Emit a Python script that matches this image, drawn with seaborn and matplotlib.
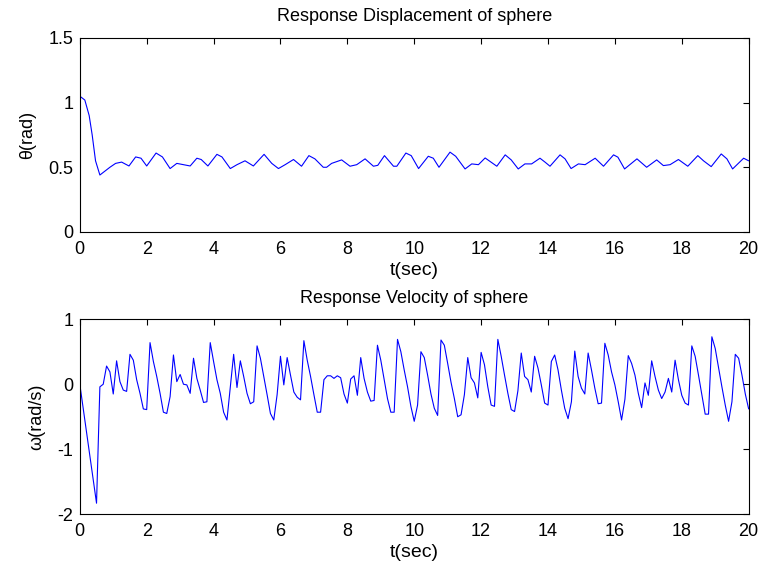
import numpy as np
import pandas as pd
import matplotlib
matplotlib.use("Agg")
import matplotlib.pyplot as plt
import seaborn as sns
from matplotlib.ticker import FuncFormatter

# ---- data ----
t_theta = [0, 0.15, 0.28, 0.37, 0.47, 0.6, 0.75, 0.9, 1.07, 1.25, 1.47, 1.67, 1.83, 2.0, 2.28,
           2.47, 2.7, 2.9, 3.1, 3.3, 3.5, 3.63, 3.83, 4.1, 4.25, 4.5, 4.7, 4.94, 5.19, 5.51,
           5.74, 5.94, 6.14, 6.39, 6.63, 6.85, 7.03, 7.28, 7.38, 7.53, 7.83, 8.08, 8.28, 8.53,
           8.78, 8.91, 9.11, 9.38, 9.48, 9.75, 9.91, 10.13, 10.42, 10.57, 10.74, 11.07, 11.24,
           11.52, 11.72, 11.92, 12.12, 12.47, 12.72, 12.9, 13.11, 13.31, 13.51, 13.76, 13.91,
           14.06, 14.36, 14.51, 14.69, 14.91, 15.11, 15.41, 15.66, 15.96, 16.09, 16.29, 16.66,
           16.95, 17.25, 17.45, 17.65, 17.9, 18.18, 18.48, 18.65, 18.88, 19.18, 19.35, 19.52,
           19.85, 20.0]
theta = [1.05, 1.02, 0.9, 0.75, 0.55, 0.44, 0.47, 0.5, 0.53, 0.54, 0.51, 0.58, 0.57, 0.51, 0.61,
         0.58, 0.49, 0.53, 0.52, 0.51, 0.57, 0.56, 0.51, 0.60, 0.58, 0.49, 0.52, 0.55, 0.51, 0.60,
         0.53, 0.49, 0.52, 0.56, 0.508, 0.59, 0.565, 0.50, 0.50, 0.53, 0.557, 0.508, 0.52, 0.565,
         0.508, 0.515, 0.59, 0.508, 0.508, 0.61, 0.59, 0.49, 0.585, 0.57, 0.50, 0.617, 0.585,
         0.487, 0.526, 0.52, 0.572, 0.508, 0.596, 0.557, 0.487, 0.526, 0.526, 0.57, 0.54,
         0.508, 0.596, 0.565, 0.49, 0.526, 0.52, 0.57, 0.508, 0.596, 0.578, 0.487, 0.565,
         0.50, 0.557, 0.513, 0.52, 0.56, 0.508, 0.59, 0.55, 0.505, 0.603, 0.565, 0.487,
         0.57, 0.55]

omega = [0.0, -0.37, -0.73, -1.10, -1.46, -1.83, -0.04, 0.0, 0.28, 0.19,
         -0.15, 0.36, 0.04, -0.09, -0.11, 0.46, 0.37, 0.07, -0.14, -0.38,
         -0.39, 0.64, 0.35, 0.12, -0.14, -0.43, -0.45, -0.19, 0.45, 0.04,
         0.15, 0.0, -0.01, -0.14, 0.40, 0.09, -0.09, -0.28, -0.27, 0.64,
         0.35, 0.07, -0.14, -0.43, -0.55, -0.04, 0.46, -0.05, 0.36, 0.12,
         -0.14, -0.30, -0.27, 0.59, 0.40, 0.12, -0.16, -0.45, -0.55, -0.16,
         0.43, -0.01, 0.41, 0.14, -0.12, -0.20, -0.24, 0.67, 0.37, 0.12,
         -0.16, -0.43, -0.43, 0.07, 0.13, 0.13, 0.09, 0.13, 0.10, -0.15,
         -0.29, 0.08, 0.13, -0.17, 0.41, 0.09, -0.12, -0.26, -0.25, 0.60,
         0.37, 0.07, -0.22, -0.43, -0.43, 0.69, 0.50, 0.22, -0.04, -0.34,
         -0.57, -0.32, 0.50, 0.41, 0.14, -0.15, -0.37, -0.48, 0.68, 0.60,
         0.32, 0.03, -0.22, -0.50, -0.47, -0.16, 0.41, 0.10, 0.02, -0.21,
         0.49, 0.30, -0.04, -0.32, -0.34, 0.69, 0.43, 0.14, -0.14, -0.39,
         -0.42, -0.10, 0.48, 0.12, 0.07, -0.12, 0.43, 0.25, -0.01, -0.29,
         -0.32, 0.35, 0.45, 0.22, -0.09, -0.37, -0.53, -0.27, 0.51, 0.12,
         -0.06, -0.15, 0.48, 0.22, -0.06, -0.30, -0.29, 0.63, 0.45, 0.19,
         -0.01, -0.27, -0.55, -0.23, 0.44, 0.32, 0.14, -0.14, -0.36, 0.02,
         -0.17, 0.36, 0.12, -0.09, -0.22, -0.12, 0.09, -0.12, 0.37, 0.07,
         -0.17, -0.29, -0.32, 0.59, 0.43, 0.14, -0.16, -0.46, -0.46, 0.73,
         0.55, 0.25, -0.04, -0.32, -0.57, -0.27, 0.46, 0.40, 0.14, -0.15,
         -0.38]
dt = 0.1
t_omega = [round(i * dt, 1) for i in range(len(omega))]

x_ticks = list(range(0, 21, 2))
theta_ticks = [0, 0.5, 1, 1.5]
omega_ticks = [-2, -1, 0, 1]

titles = ["Response Displacement of sphere", "Response Velocity of sphere"]
ylabels = ["\u03b8(rad)", "\u03c9(rad/s)"]
xlabel = "t(sec)"

# ---- style ----
sns.set_style("white")
plt.rcParams["font.family"] = ["Liberation Sans", "DejaVu Sans"]
plt.rcParams["axes.unicode_minus"] = False
plt.rcParams["text.color"] = "black"
plt.rcParams["axes.labelcolor"] = "black"
plt.rcParams["axes.titlecolor"] = "black"
plt.rcParams["xtick.color"] = "black"
plt.rcParams["ytick.color"] = "black"

df_theta = pd.DataFrame({"t": t_theta, "v": theta})
df_omega = pd.DataFrame({"t": t_omega, "v": omega})

fig = plt.figure(figsize=(7.63, 5.67), dpi=100)
ax1 = fig.add_axes([0.1046, 0.591, 0.8766, 0.342])
ax2 = fig.add_axes([0.1046, 0.093, 0.8766, 0.344])

fmt = FuncFormatter(lambda v, p: "%g" % v)

for ax, df, yt, ttl, yl in [(ax1, df_theta, theta_ticks, titles[0], ylabels[0]),
                            (ax2, df_omega, omega_ticks, titles[1], ylabels[1])]:
    sns.lineplot(data=df, x="t", y="v", ax=ax, color="#0000ff", linewidth=0.8,
                 estimator=None, sort=False)
    ax.set_xlim(0, 20)
    ax.set_ylim(yt[0], yt[-1])
    ax.set_xticks(x_ticks)
    ax.set_yticks(yt)
    ax.xaxis.set_major_formatter(fmt)
    ax.yaxis.set_major_formatter(fmt)
    ax.tick_params(direction="in", length=4, width=0.8, top=True, right=True,
                   labelsize=13, colors="black", labelcolor="black")
    ax.tick_params(axis="x", pad=6.5)
    ax.tick_params(axis="y", pad=4.5)
    for s in ax.spines.values():
        s.set_color("black")
        s.set_linewidth(0.8)
        s.set_visible(True)
    ax.set_title(ttl, fontsize=13, pad=12, color="black")
    ax.set_xlabel(xlabel, fontsize=14, labelpad=3, color="black")
    ax.set_ylabel(yl, fontsize=13, labelpad=9, color="black")

fig.savefig("out.png", dpi=100)
